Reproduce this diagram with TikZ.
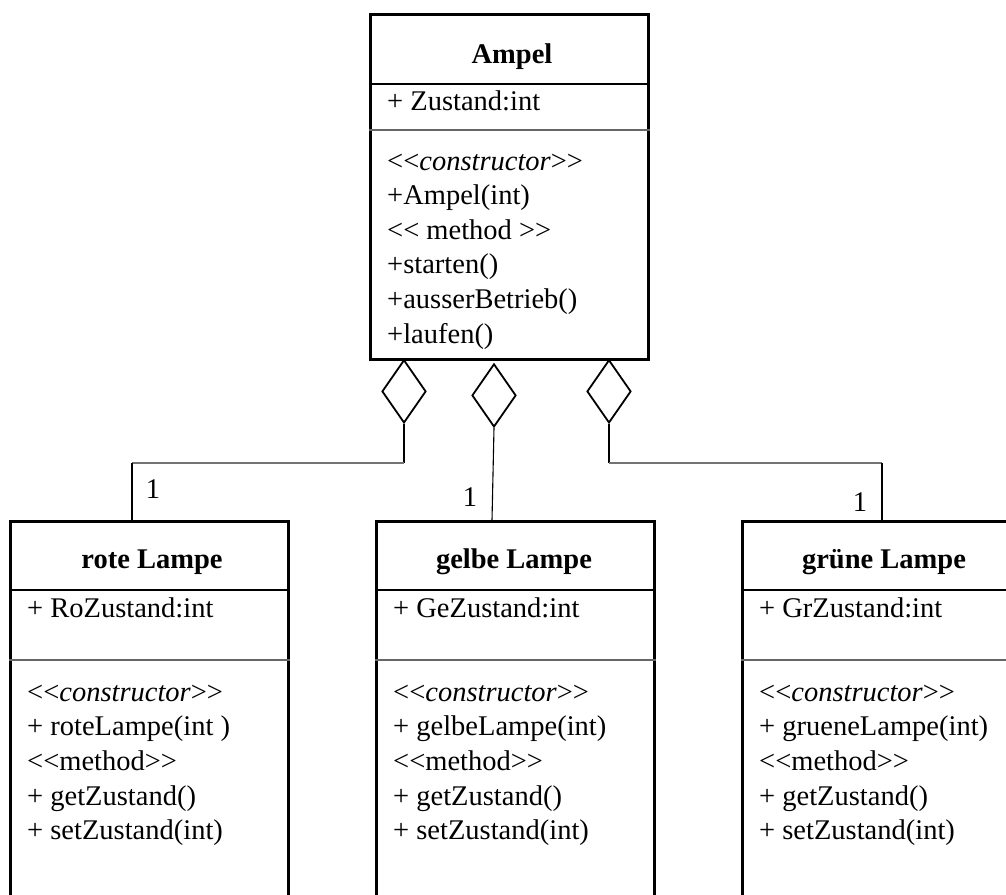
\documentclass[tikz,border=0pt]{standalone}
\usepackage{fontspec}
\setmainfont{Liberation Serif}
\usetikzlibrary{shapes.geometric}
% stereotype brackets kept as plain angle brackets
\newcommand\stopen{<{}<}
\newcommand\stclose{>{}>}
\newcommand\ctorline{{\upshape\stopen}\textit{constructor}{\upshape\stclose}}
\newcommand\umlfont{\fontsize{28.5}{34.6}\selectfont}
\begin{document}
\begin{tikzpicture}[x=1pt,y=-1pt,
  classbox/.style={draw, line width=2.8pt, rectangle, inner sep=0, anchor=north west},
  sepa/.style={line width=1.2pt},
  sepb/.style={line width=1.8pt, black!60},
  txt/.style={anchor=base west, inner sep=0, font=\umlfont},
  ttl/.style={anchor=base, inner sep=0, font=\umlfont\bfseries},
  agg/.style={draw, diamond, line width=1.8pt, minimum width=44pt, minimum height=63pt, inner sep=0, anchor=north},
  link/.style={line width=1.1pt},
  linkh/.style={line width=1.3pt, black!55},
  mult/.style={anchor=center, inner sep=0, font=\umlfont}
]
\useasboundingbox (0,0) rectangle (1006,894);
\begin{scope}
\clip (0,0) rectangle (1006,894);

% class Ampel
\node[classbox, minimum width=278pt, minimum height=345pt] (ampel) at (369,13) {};
\draw[sepa] (ampel.west |- 0,84) -- (ampel.east |- 0,84);
\draw[sepb] (ampel.west |- 0,130) -- (ampel.east |- 0,130);
\node[ttl] (ampelT) at (512,63) {Ampel};
\node[txt] (ampelA) at (387,110) {+ Zustand:int};
\node[txt] (ampelM1) at (387,170) {\ctorline};
\node[txt] (ampelM2) at (387,204.6) {+Ampel(int)};
\node[txt] (ampelM3) at (387,239.2) {\stopen{} method \stclose};
\node[txt] (ampelM4) at (387,273.8) {+starten()};
\node[txt] (ampelM5) at (387,308.4) {+ausserBetrieb()};
\node[txt] (ampelM6) at (387,343) {+laufen()};

% class rote Lampe
\node[classbox, minimum width=278pt, minimum height=400pt] (rote) at (9,520) {};
\draw[sepa] (rote.west |- 0,590) -- (rote.east |- 0,590);
\draw[sepb] (rote.west |- 0,660) -- (rote.east |- 0,660);
\node[ttl] (roteT) at (152,568) {rote Lampe};
\node[txt] (roteA) at (27,617) {+ RoZustand:int};
\node[txt] (roteM1) at (27,701) {\ctorline};
\node[txt] (roteM2) at (27,735.7) {+ roteLampe(int )};
\node[txt] (roteM3) at (27,770.4) {\stopen method\stclose};
\node[txt] (roteM4) at (27,805) {+ getZustand()};
\node[txt] (roteM5) at (27,839.8) {+ setZustand(int)};

% class gelbe Lampe
\node[classbox, minimum width=278pt, minimum height=400pt] (gelbe) at (375,520) {};
\draw[sepa] (gelbe.west |- 0,590) -- (gelbe.east |- 0,590);
\draw[sepb] (gelbe.west |- 0,660) -- (gelbe.east |- 0,660);
\node[ttl] (gelbeT) at (514,568) {gelbe Lampe};
\node[txt] (gelbeA) at (393,617) {+ GeZustand:int};
\node[txt] (gelbeM1) at (393,701) {\ctorline};
\node[txt] (gelbeM2) at (393,735.7) {+ gelbeLampe(int)};
\node[txt] (gelbeM3) at (393,770.4) {\stopen method\stclose};
\node[txt] (gelbeM4) at (393,805) {+ getZustand()};
\node[txt] (gelbeM5) at (393,839.8) {+ setZustand(int)};

% class gruene Lampe
\node[classbox, minimum width=278pt, minimum height=400pt] (gruen) at (741,520) {};
\draw[sepa] (gruen.west |- 0,590) -- (gruen.east |- 0,590);
\draw[sepb] (gruen.west |- 0,660) -- (gruen.east |- 0,660);
\node[ttl] (gruenT) at (884,568) {grüne Lampe};
\node[txt] (gruenA) at (759,617) {+ GrZustand:int};
\node[txt] (gruenM1) at (759,701) {\ctorline};
\node[txt] (gruenM2) at (759,735.7) {+ grueneLampe(int)};
\node[txt] (gruenM3) at (759,770.4) {\stopen method\stclose};
\node[txt] (gruenM4) at (759,805) {+ getZustand()};
\node[txt] (gruenM5) at (759,839.8) {+ setZustand(int)};

% aggregation diamonds
\node[agg] (d1) at (404,359) {};
\node[agg] (d2) at (494,363) {};
\node[agg] (d3) at (609,359) {};

% connectors
\coordinate (j1) at (404,463);
\coordinate (k1) at (132,463);
\draw[link] (d1.south) -- (j1);
\draw[linkh] (j1) -- (k1);
\draw[link] (k1) -- (k1 |- rote.north);

\coordinate (e2) at (492,520);
\draw[link] (d2.south) -- (e2);

\coordinate (j3) at (609,463);
\coordinate (k3) at (882,463);
\draw[link] (d3.south) -- (j3);
\draw[linkh] (j3) -- (k3);
\draw[link] (k3) -- (k3 |- gruen.north);

% multiplicities
\node[mult] (m1) at (153,489) {1};
\node[mult] (m2) at (470,497) {1};
\node[mult] (m3) at (860,502) {1};
\end{scope}
\end{tikzpicture}
\end{document}
